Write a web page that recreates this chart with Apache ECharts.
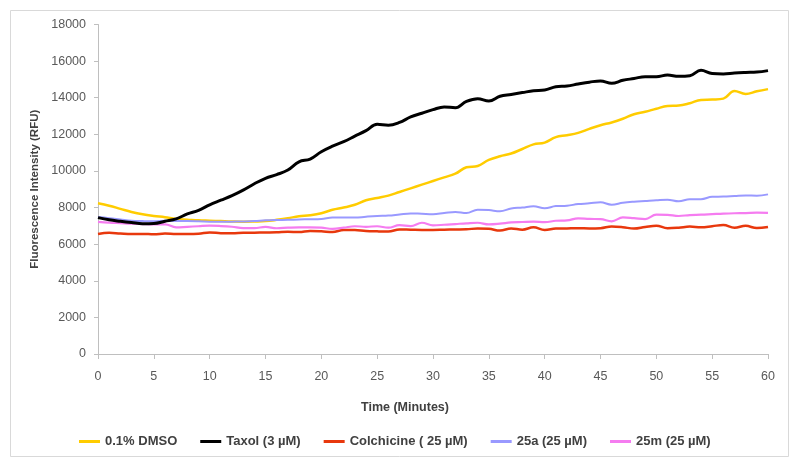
<!DOCTYPE html>
<html>
<head>
<meta charset="utf-8">
<script src="https://cdn.jsdelivr.net/npm/echarts@6/dist/echarts.min.js"></script>
<style>
html,body{margin:0;padding:0;background:#fff;}
#chart{width:800px;height:468px;}
</style>
</head>
<body>
<div id="chart"></div>
<script>
var minutes = [0,1,2,3,4,5,6,7,8,9,10,11,12,13,14,15,16,17,18,19,20,21,22,23,24,25,26,27,28,29,30,31,32,33,34,35,36,37,38,39,40,41,42,43,44,45,46,47,48,49,50,51,52,53,54,55,56,57,58,59,60];

var dmso = [8230,8100,7930,7760,7630,7540,7470,7380,7340,7300,7280,7260,7240,7230,7240,7260,7330,7420,7520,7580,7690,7880,8000,8150,8400,8520,8650,8850,9050,9250,9450,9650,9850,10200,10270,10600,10800,10950,11200,11450,11550,11850,11950,12080,12300,12500,12650,12850,13100,13230,13400,13550,13570,13700,13880,13900,13950,14370,14200,14350,14470];

var taxol = [7450,7330,7250,7180,7120,7130,7250,7380,7650,7850,8150,8400,8650,8950,9300,9600,9800,10050,10500,10650,11050,11350,11600,11900,12200,12550,12500,12650,12950,13150,13350,13500,13450,13800,13950,13820,14080,14180,14280,14380,14420,14600,14640,14750,14850,14920,14790,14950,15050,15150,15150,15240,15170,15200,15500,15320,15300,15350,15380,15400,15480];

var colchicine = [6550,6620,6580,6550,6560,6540,6580,6560,6560,6570,6640,6600,6590,6620,6630,6640,6650,6680,6660,6720,6700,6660,6780,6770,6720,6700,6690,6800,6790,6780,6780,6790,6800,6810,6860,6840,6740,6860,6790,6920,6780,6850,6860,6870,6860,6870,6970,6930,6850,6940,7010,6870,6900,6960,6920,6980,7050,6900,7000,6880,6940];

var c25a = [7480,7420,7350,7280,7260,7250,7280,7260,7260,7250,7230,7220,7230,7240,7260,7300,7320,7330,7350,7360,7380,7450,7460,7450,7500,7540,7560,7620,7680,7660,7640,7700,7760,7700,7880,7860,7800,7950,8000,8070,7960,8080,8100,8190,8230,8290,8160,8260,8320,8360,8400,8430,8340,8460,8460,8590,8600,8630,8660,8650,8720];

var c25m = [7220,7180,7150,7120,7100,7080,7080,6920,6950,6980,7010,6990,6950,6880,6880,6940,6870,6900,6920,6920,6900,6840,6900,6980,6950,6980,6900,7040,6990,7170,7030,7060,7100,7140,7170,7080,7120,7190,7210,7230,7200,7280,7300,7410,7380,7370,7250,7460,7420,7370,7610,7600,7540,7590,7610,7640,7670,7690,7700,7720,7710];

var seriesNames = ['0.1% DMSO','Taxol (3 µM)','Colchicine ( 25 µM)','25a (25 µM)','25m (25 µM)'];

function pairs(vals){ return minutes.map(function(t,i){ return [t, vals[i]]; }); }

var chart = echarts.init(document.getElementById('chart'), null, {renderer:'canvas'});
var font = 'Liberation Sans, Arial, sans-serif';
function mk(name, vals, color, width, z){
  return {name:name, type:'line', data:pairs(vals), showSymbol:false, symbol:'none', smooth:0.4,
    lineStyle:{color:color, width:width}, itemStyle:{color:color}, z:z, animation:false};
}
chart.setOption({
  animation:false,
  backgroundColor:'#ffffff',
  grid:{left:98, right:32, top:24.5, bottom:114},
  graphic:[{type:'rect', shape:{x:10.5,y:10.5,width:778,height:446}, style:{fill:'none', stroke:'#d9d9d9', lineWidth:1}, silent:true}],
  legend:{
    left:74, top:430, itemWidth:21, itemHeight:3, itemGap:23, icon:'rect',
    textStyle:{fontFamily:font, fontSize:13, fontWeight:'bold', color:'#404040'},
    data:seriesNames
  },
  xAxis:{
    type:'value', min:0, max:60, interval:5,
    name:'Time (Minutes)', nameLocation:'middle', nameGap:47,
    nameTextStyle:{fontFamily:font, fontSize:12.5, fontWeight:'bold', color:'#404040', padding:[0,56,0,0]},
    axisLine:{lineStyle:{color:'#bfbfbf', width:1}},
    axisTick:{show:true, length:5, lineStyle:{color:'#bfbfbf'}},
    axisLabel:{fontFamily:font, fontSize:12.5, color:'#595959', margin:16},
    splitLine:{show:false}
  },
  yAxis:{
    type:'value', min:0, max:18000, interval:2000,
    name:'Fluorescence Intensity (RFU)', nameLocation:'middle', nameGap:55, nameRotate:90,
    nameTextStyle:{fontFamily:font, fontSize:11.5, fontWeight:'bold', color:'#404040'},
    axisLine:{show:true, lineStyle:{color:'#bfbfbf', width:1}},
    axisTick:{show:true, length:4, lineStyle:{color:'#bfbfbf'}},
    axisLabel:{fontFamily:font, fontSize:12.5, color:'#595959', margin:12, formatter:function(v){return String(v);}},
    splitLine:{show:false}
  },
  series:[
    mk(seriesNames[0], dmso, '#FFCC00', 2.5, 3),
    mk(seriesNames[1], taxol, '#000000', 3, 5),
    mk(seriesNames[2], colchicine, '#E8380D', 2.5, 2),
    mk(seriesNames[3], c25a, '#9999FF', 2, 4),
    mk(seriesNames[4], c25m, '#F57CF0', 2.2, 3)
  ]
});
</script>
</body>
</html>
